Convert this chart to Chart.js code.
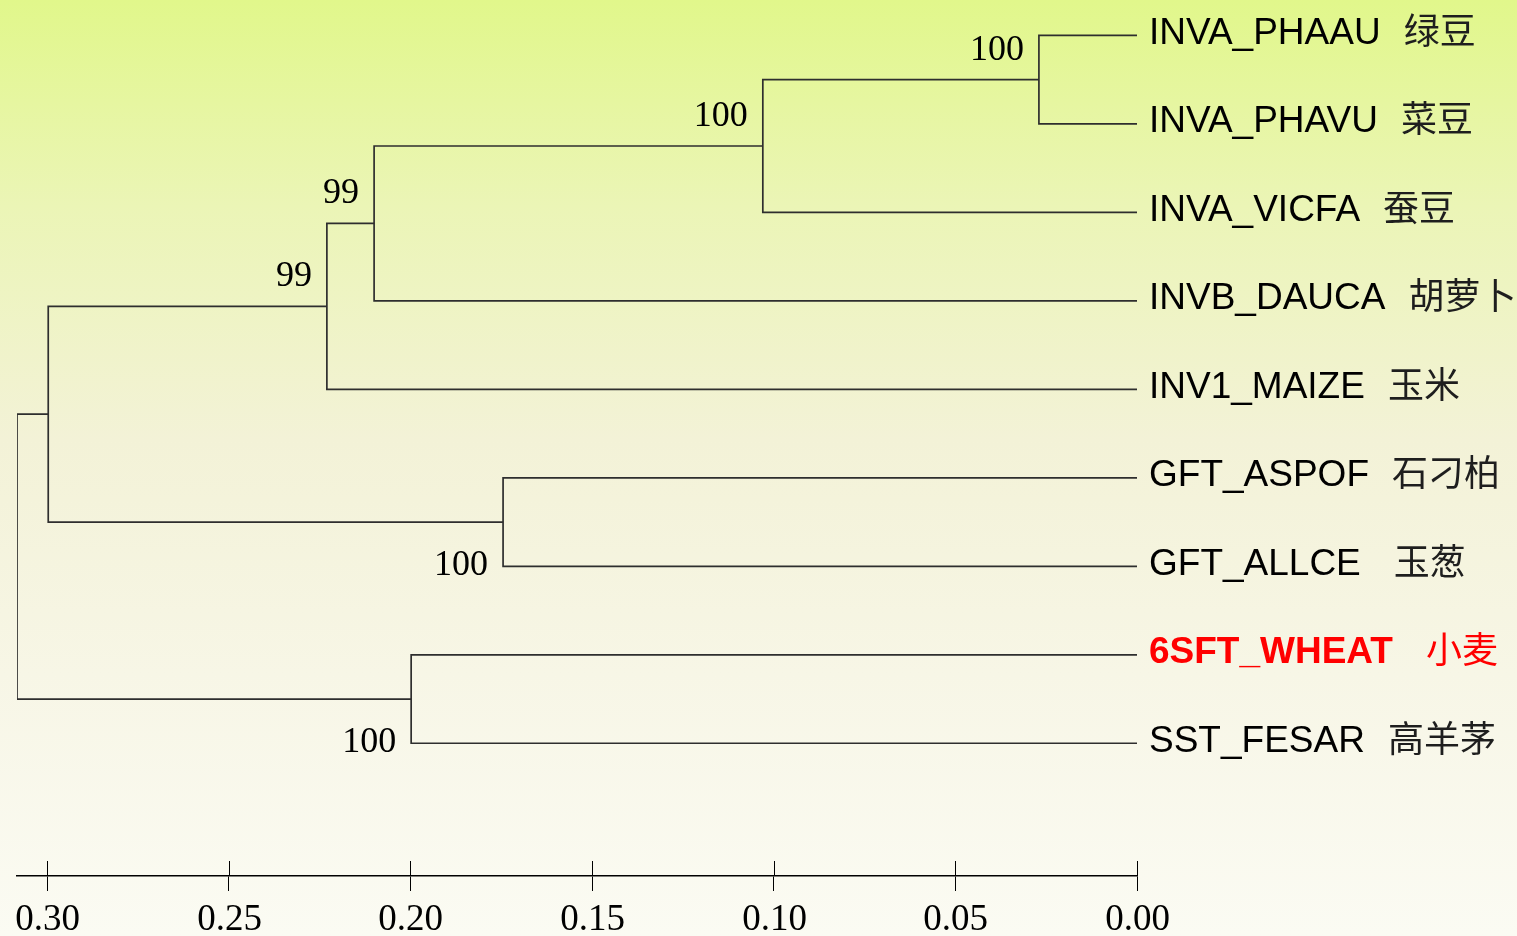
<!DOCTYPE html>
<html>
<head>
<meta charset="utf-8">
<title>系统发育树</title>
<script src="https://cdn.jsdelivr.net/npm/chart.js@4/dist/chart.umd.min.js"></script>
<style>
    html, body { margin: 0; padding: 0; }
    #contenedor {
        width: 1517px;
        height: 936px;
        background: linear-gradient(to bottom, #e1f78b 0%, #ebf5b6 22%, #f3f2d7 47%, #f7f6e6 72%, #fbfbf3 100%);
    }
</style>
</head>
<body>
<div id="contenedor"><canvas id="arbol"></canvas></div>
<script>
// Hojas del arbol (de arriba hacia abajo)
var hojas = ['INVA_PHAAU  绿豆', 'INVA_PHAVU  菜豆', 'INVA_VICFA  蚕豆', 'INVB_DAUCA  胡萝卜',
    'INV1_MAIZE  玉米', 'GFT_ASPOF  石刁柏', 'GFT_ALLCE   玉葱', '6SFT_WHEAT   小麦', 'SST_FESAR  高羊茅'];
var hojaDestacada = [false, false, false, false, false, false, false, true, false];

// Nodos internos: hijos (L = hoja, N = nodo), altura (distancia) y bootstrap
var nodoHijos = [['L0', 'L1'], ['N0', 'L2'], ['N1', 'L3'], ['N2', 'L4'], ['L5', 'L6'],
    ['N3', 'N4'], ['L7', 'L8'], ['N5', 'N6']];
var nodoAltura = [0.027, 0.103, 0.210, 0.223, 0.1745, 0.2997, 0.1998, 0.3083];
var bootstrap = [100, 100, 99, 99, 100, null, 100, null];

// Eje x
var tickValores = [0.30, 0.25, 0.20, 0.15, 0.10, 0.05, 0.00];
var tickEtiquetas = ['0.30', '0.25', '0.20', '0.15', '0.10', '0.05', '0.00'];

var colorRama = '#2e2e2e';

// posicion (altura, fila) de cada hoja o nodo
var nodoFila = [];
var lado = []; // 'arriba' si es el primer hijo de su padre
function Posicion(id) {
    var i = Number(id.slice(1));
    if (id[0] === 'L') {
        return { x: 0, y: i };
    }
    return { x: nodoAltura[i], y: nodoFila[i] };
}

var datasets = [];
for (var i = 0; i < nodoHijos.length; i += 1) {
    var a = Posicion(nodoHijos[i][0]);
    var b = Posicion(nodoHijos[i][1]);
    nodoFila.push((a.y + b.y) / 2);
    if (nodoHijos[i][0][0] === 'N') lado[Number(nodoHijos[i][0].slice(1))] = 'arriba';
    if (nodoHijos[i][1][0] === 'N') lado[Number(nodoHijos[i][1].slice(1))] = 'abajo';
    datasets.push({
        data: [
            { x: a.x, y: a.y },
            { x: nodoAltura[i], y: a.y },
            { x: nodoAltura[i], y: b.y },
            { x: b.x, y: b.y }
        ],
        showLine: true,
        borderColor: colorRama,
        borderWidth: 1.7,
        pointRadius: 0,
        tension: 0,
        fill: false
    });
}

// Etiquetas de hojas, bootstrap, etiquetas del eje y parte superior de las marcas
var textos = {
    id: 'textos',
    afterDraw: function (chart) {
        var ctx = chart.ctx;
        var xs = chart.scales.x;
        var ys = chart.scales.y;
        var area = chart.chartArea;
        ctx.save();

        // marcas del eje hacia arriba y etiquetas
        ctx.strokeStyle = '#000';
        ctx.lineWidth = 1;
        ctx.fillStyle = '#000';
        ctx.font = "37px 'Liberation Serif', serif";
        ctx.textAlign = 'center';
        ctx.textBaseline = 'alphabetic';
        tickValores.forEach(function (v, i) {
            var px = Math.round(xs.getPixelForValue(v)) + 0.5;
            ctx.beginPath();
            ctx.moveTo(px, area.bottom - 15);
            ctx.lineTo(px, area.bottom);
            ctx.stroke();
            ctx.fillText(tickEtiquetas[i], px, area.bottom + 54);
        });

        // hojas: nombre + nombre chino
        ctx.textAlign = 'left';
        hojas.forEach(function (h, i) {
            var py = ys.getPixelForValue(i) + 8.5;
            var corte = h.indexOf(' ');
            var nombre = h.slice(0, corte);
            var resto = h.slice(corte);
            var x0 = area.right + 12;
            ctx.fillStyle = hojaDestacada[i] ? '#ff0000' : '#000';
            ctx.font = (hojaDestacada[i] ? 'bold ' : '') + "37px 'Liberation Sans', sans-serif";
            ctx.fillText(nombre, x0, py);
            var ancho = ctx.measureText(nombre).width;
            ctx.fillStyle = hojaDestacada[i] ? '#ff0000' : '#1e1e1e';
            ctx.font = "36px 'Liberation Sans', 'Noto Sans CJK SC', sans-serif";
            ctx.fillText(resto, x0 + ancho + 3, py);
        });

        // bootstrap
        ctx.fillStyle = '#000';
        ctx.font = "36px 'Liberation Serif', serif";
        ctx.textAlign = 'right';
        bootstrap.forEach(function (b, i) {
            if (b === null) return;
            var px = xs.getPixelForValue(nodoAltura[i]);
            var py = ys.getPixelForValue(nodoFila[i]);
            var dy = lado[i] === 'abajo' ? 53 : -20;
            ctx.fillText(String(b), px - 15, py + dy);
        });
        ctx.restore();
    }
};

var ctx = document.getElementById('arbol').getContext('2d');
var arbol = new Chart(ctx, {
    type: 'scatter',
    data: { datasets: datasets },
    options: {
        responsive: true,
        maintainAspectRatio: false,
        animation: false,
        layout: { padding: { left: 17, right: 380, top: 0, bottom: 45 } },
        plugins: {
            legend: { display: false },
            tooltip: { enabled: false }
        },
        scales: {
            x: {
                type: 'linear',
                reverse: true,
                min: 0,
                max: nodoAltura[nodoAltura.length - 1],
                afterBuildTicks: function (scale) {
                    scale.ticks = tickValores.map(function (v) { return { value: v }; });
                },
                border: { display: true, color: '#000', width: 1.5 },
                grid: { drawOnChartArea: false, drawTicks: true, tickLength: 15, color: '#000', lineWidth: 1 },
                ticks: { display: false }
            },
            y: {
                type: 'linear',
                display: false,
                reverse: true,
                min: -0.4,
                max: 9.5
            }
        }
    },
    plugins: [textos]
});
</script>
</body>
</html>
